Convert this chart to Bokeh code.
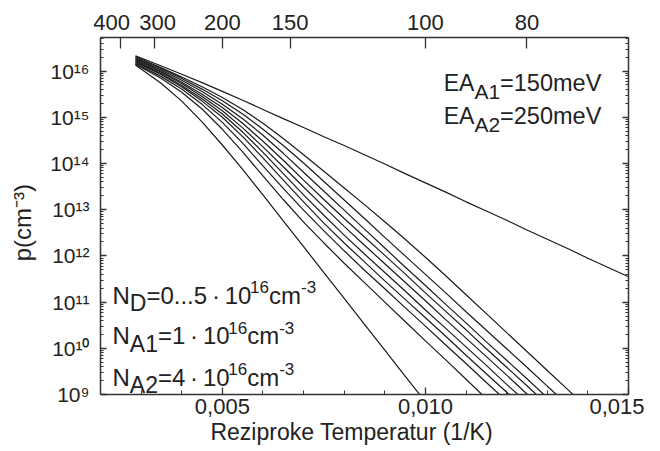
from bokeh.plotting import figure
from bokeh.models import (LogAxis, LinearAxis, FixedTicker, CustomJSTickFormatter,
                          Range1d, Label)
from bokeh.embed import file_html
from bokeh.resources import INLINE

# ---------------- data ----------------
# reciprocal temperature 1/T (1/K) at which the curves were read
inv_T = [0.00286, 0.0035, 0.004, 0.0045, 0.005, 0.0055, 0.006, 0.0065, 0.007,
         0.0075, 0.008, 0.0085, 0.009, 0.0095, 0.010, 0.0105, 0.011, 0.0115,
         0.012, 0.0125, 0.013, 0.0135, 0.014, 0.0145, 0.015]

# log10 of hole density p (cm^-3), one list per donor concentration (N_D rising)
logp_nd_0 = [16.33, 16.11, 15.93, 15.75, 15.56, 15.37, 15.17, 14.97, 14.78, 14.58, 14.39, 14.19,
             13.99, 13.78, 13.58, 13.38, 13.17, 12.97, 12.77, 12.56, 12.36, 12.16, 11.95, 11.75, 11.55]
logp_nd_1 = [16.31, 16.07, 15.87, 15.66, 15.43, 15.17, 14.87, 14.54, 14.19, 13.83, 13.47, 13.11,
             12.74, 12.36, 11.97, 11.57, 11.16, 10.75, 10.34, 9.93, 9.52, 9.11, 8.70]
logp_nd_2 = [16.29, 16.05, 15.84, 15.61, 15.36, 15.07, 14.74, 14.39, 14.01, 13.61, 13.21, 12.81,
             12.40, 12.00, 11.60, 11.20, 10.79, 10.39, 9.99, 9.59, 9.18, 8.78]
logp_nd_3 = [16.27, 16.02, 15.80, 15.56, 15.28, 14.97, 14.61, 14.22, 13.81, 13.40, 12.99, 12.58,
             12.17, 11.76, 11.36, 10.95, 10.55, 10.14, 9.74, 9.34, 8.93]
logp_nd_4 = [16.25, 15.99, 15.76, 15.50, 15.21, 14.87, 14.48, 14.07, 13.64, 13.22, 12.81, 12.41,
             12.01, 11.61, 11.20, 10.80, 10.40, 9.99, 9.59, 9.19, 8.78]
logp_nd_5 = [16.23, 15.97, 15.73, 15.45, 15.14, 14.77, 14.36, 13.93, 13.49, 13.06, 12.64, 12.23,
             11.83, 11.43, 11.03, 10.62, 10.22, 9.82, 9.42, 9.01, 8.61]
logp_nd_6 = [16.21, 15.94, 15.69, 15.40, 15.07, 14.68, 14.24, 13.78, 13.32, 12.88, 12.45, 12.04,
             11.64, 11.24, 10.83, 10.43, 10.03, 9.63, 9.22, 8.82]
logp_nd_7 = [16.19, 15.92, 15.66, 15.35, 15.00, 14.58, 14.12, 13.64, 13.17, 12.71, 12.28, 11.87,
             11.46, 11.06, 10.66, 10.26, 9.85, 9.45, 9.05, 8.65]
logp_nd_8 = [16.17, 15.88, 15.61, 15.28, 14.89, 14.44, 13.95, 13.46, 12.99, 12.54, 12.11, 11.69,
             11.29, 10.88, 10.48, 10.07, 9.67, 9.26, 8.86]
logp_nd_9 = [16.15, 15.84, 15.54, 15.18, 14.74, 14.25, 13.73, 13.22, 12.73, 12.28, 11.84, 11.42,
             11.00, 10.58, 10.16, 9.75, 9.33, 8.91]
logp_nd_10 = [16.13, 15.73, 15.35, 14.90, 14.40, 13.87, 13.32, 12.76, 12.20, 11.64, 11.08, 10.52,
              9.96, 9.40, 8.84]

curves = [logp_nd_0, logp_nd_1, logp_nd_2, logp_nd_3, logp_nd_4, logp_nd_5,
          logp_nd_6, logp_nd_7, logp_nd_8, logp_nd_9, logp_nd_10]

x_ticks = [0.005, 0.010, 0.015]
x_minor_ticks = [0.003, 0.004, 0.006, 0.007, 0.008, 0.009, 0.011, 0.012, 0.013, 0.014]
y_tick_exponents = [9, 10, 11, 12, 13, 14, 15, 16]
top_temps = [400, 300, 200, 150, 100, 80]

FONT = "Liberation Sans"
AX = "#333333"
TXT = "#222222"
NB = "\u00a0"

X0, X1 = 0.002, 0.015
Y0, Y1 = 1e9, 5.33e16

p = figure(width=644, height=451, x_range=Range1d(X0, X1),
           y_range=Range1d(Y0, Y1), y_axis_type="log",
           output_backend="svg", toolbar_location=None,
           min_border_left=100, min_border_right=16, min_border_top=37,
           min_border_bottom=57)
p.outline_line_color = None
p.grid.visible = False
p.background_fill_color = "white"
p.border_fill_color = "white"

for c in curves:
    xs = inv_T[:len(c)]
    ys = [10 ** v for v in c]
    p.line(xs, ys, line_color="#1a1a1a", line_width=1.2)

y_major = [10.0 ** e for e in y_tick_exponents]
y_minor = [k * 10.0 ** e for e in range(9, 17) for k in range(2, 10)]
blank = CustomJSTickFormatter(code='return "";')
sup_code = """
const sup = {"0":"\u2070","1":"\u00b9","2":"\u00b2","3":"\u00b3","4":"\u2074",
             "5":"\u2075","6":"\u2076","7":"\u2077","8":"\u2078","9":"\u2079","-":"\u207b"};
const e = Math.round(Math.log10(tick));
return "10" + String(e).split("").map(c => sup[c]).join("");
"""

def style_axis(ax, tin, mtin):
    ax.axis_line_color = AX
    ax.axis_line_width = 1.5
    ax.major_tick_line_color = AX
    ax.minor_tick_line_color = AX
    ax.major_tick_line_width = 1.3
    ax.minor_tick_line_width = 1
    ax.major_tick_in = tin
    ax.major_tick_out = 0
    ax.minor_tick_in = mtin
    ax.minor_tick_out = 0
    ax.major_label_text_font = FONT
    ax.major_label_text_font_size = "22px"
    ax.major_label_text_color = TXT
    ax.axis_label_text_font = FONT
    ax.axis_label_text_font_size = "22px"
    ax.axis_label_text_font_style = "normal"
    ax.axis_label_text_color = TXT

left = p.yaxis[0]
left.ticker = FixedTicker(ticks=y_major, minor_ticks=y_minor)
left.formatter = CustomJSTickFormatter(code=sup_code)
style_axis(left, 6, 3)
left.major_label_text_font_size = "21px"
left.major_label_standoff = 11
left.axis_label = "p(cm\u207b\u00b3)" + NB + NB
left.axis_label_text_font_size = "24px"
left.axis_label_standoff = 11

right = LogAxis(ticker=FixedTicker(ticks=y_major, minor_ticks=y_minor), formatter=blank)
style_axis(right, 6, 3)
right.major_label_standoff = 0
p.add_layout(right, "right")

bottom = p.xaxis[0]
bottom.ticker = FixedTicker(ticks=x_ticks, minor_ticks=x_minor_ticks)
bottom.formatter = CustomJSTickFormatter(code='return tick.toFixed(3).replace(".", ",");')
style_axis(bottom, 7, 4)
bottom.major_label_standoff = 4
bottom.axis_label = "Reziproke Temperatur (1/K)" + NB * 4
bottom.axis_label_text_font_size = "23px"
bottom.axis_label_standoff = 2

top_code = """
const t = Math.round(1 / tick);
if (t == 400) return "400\u00a0\u00a0\u00a0";
if (t == 300) return "\u00a0300";
return String(t);
"""
top = LinearAxis(ticker=FixedTicker(ticks=[1.0 / t for t in top_temps], minor_ticks=[]),
                 formatter=CustomJSTickFormatter(code=top_code))
style_axis(top, 11, 0)
top.major_label_standoff = 3
p.add_layout(top, "above")

# ---- text with sub/superscripts (Arial/Liberation Sans advance widths)
W = {" ": 278, "\u2009": 200, "=": 584, ".": 278, "\u00b7": 278, "-": 333,
     "A": 667, "D": 722, "E": 667, "N": 722, "V": 667, "c": 500, "e": 556, "m": 833}
for d in "0123456789":
    W[d] = 556

def text_width(s, size):
    return sum(W.get(ch, 556) for ch in s) * size / 1000.0

def rich_text(x, y, segments):
    off = 0.0
    for txt, size, dy in segments:
        p.add_layout(Label(x=x, y=y, x_offset=off, y_offset=dy, text=txt,
                           text_font=FONT, text_font_size=f"{size}px",
                           text_color=TXT, text_baseline="alphabetic",
                           text_align="left"))
        off += text_width(txt, size)

DOT = "\u2009\u00b7\u2009"
rich_text(0.01045, 5.4e15, [("EA", 23, 0), ("A1", 21, -8), ("=150meV", 23.5, 0)])
rich_text(0.01045, 1.04e15, [("EA", 23, 0), ("A2", 21, -8), ("=250meV", 23.5, 0)])
rich_text(0.002295, 1.39e11, [("N", 24, 0), ("D", 23, -8), ("=0...5" + DOT + "10", 24, 0),
                              ("16", 17, 8), ("cm", 24, 0), ("-3", 17, 8)])
rich_text(0.002295, 1.89e10, [("N", 24, 0), ("A1", 23, -8), ("=1" + DOT + "10", 24, 0),
                              ("16", 17, 8), ("cm", 24, 0), ("-3", 17, 8)])
rich_text(0.002295, 2.37e9, [("N", 24, 0), ("A2", 23, -8), ("=4" + DOT + "10", 24, 0),
                             ("16", 17, 8), ("cm", 24, 0), ("-3", 17, 8)])

open("out.html", "w").write(file_html(p, INLINE))
